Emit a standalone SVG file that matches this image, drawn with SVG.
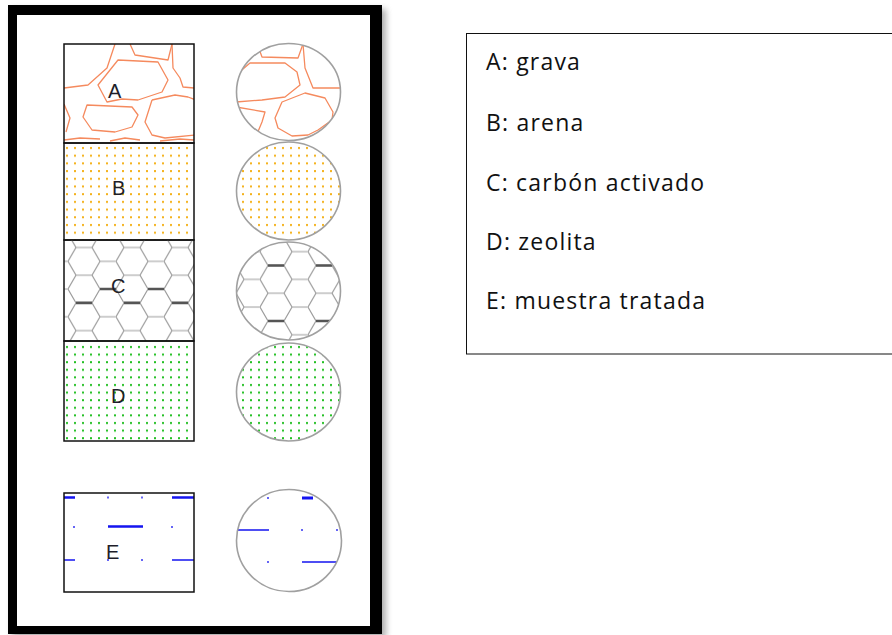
<svg xmlns="http://www.w3.org/2000/svg" width="892" height="635" viewBox="0 0 892 635">
<style>
.box{fill:none;stroke:#111;stroke-width:1.5}
.circ{fill:none;stroke:#a0a0a0;stroke-width:1.6}
.grav{fill:none;stroke:#f58a5e;stroke-width:1.3;stroke-linejoin:round}
.lbl{font-family:"Liberation Sans",Arial,sans-serif;font-size:20px;fill:#1e1e2a}
.leg{font-family:"Open Sans","Noto Sans",sans-serif;font-size:23px;letter-spacing:1.2px;fill:#111}
.blu{stroke:#1515f0;fill:none}
.thk{stroke:#555;stroke-width:2.6}
</style>
<defs>
<pattern id="pB" patternUnits="userSpaceOnUse" x="64" y="145" width="8" height="7.7">
<rect x="2" y="2" width="2" height="2" fill="#f4b11a"/>
</pattern>
<pattern id="pD" patternUnits="userSpaceOnUse" x="64" y="344" width="8" height="7.6">
<rect x="2" y="2" width="2" height="2" fill="#22bf22"/>
</pattern>
<pattern id="pC" patternUnits="userSpaceOnUse" x="68" y="247.5" width="48" height="27.71">
<path d="M0,13.86 L8,0 L24,0 L32,13.86 L24,27.71 L8,27.71 Z M32,13.86 L48,13.86" fill="none" stroke="#9c9c9c" stroke-width="1.2"/>
</pattern>
<pattern id="pC2" patternUnits="userSpaceOnUse" x="68" y="237.8" width="48" height="27.71">
<path d="M0,13.86 L8,0 L24,0 L32,13.86 L24,27.71 L8,27.71 Z M32,13.86 L48,13.86" fill="none" stroke="#9c9c9c" stroke-width="1.2"/>
</pattern>
<clipPath id="cBoxA"><rect x="64" y="44" width="130" height="99"/></clipPath>
<clipPath id="cCirA"><ellipse cx="288.5" cy="92" rx="52" ry="48.5"/></clipPath>
<clipPath id="cBoxC"><rect x="64" y="240" width="130" height="101"/></clipPath>
<clipPath id="cCirC"><ellipse cx="288.5" cy="291" rx="52" ry="49"/></clipPath>
<filter id="sh" x="-10%" y="-10%" width="120%" height="120%"><feGaussianBlur stdDeviation="3"/></filter>
</defs>
<rect width="892" height="635" fill="#fff"/>

<g id="frame">
<rect x="12" y="9" width="374" height="629" fill="#777" filter="url(#sh)" opacity="0.6"/>
<rect x="8" y="5" width="374" height="629" fill="#000"/>
<rect x="17" y="15" width="353" height="611" fill="#fff"/>
</g>

<g id="layerA">
<g clip-path="url(#cBoxA)" class="grav">
<path d="M115,44 L107,68 L88,85 L64,88"/>
<path d="M130,44 L135,55 L168,60 L172,44"/>
<path d="M118,60 L158,62 L168,80 L162,92 L138,100 L122,99 L107,102 L98,85 Z"/>
<path d="M172,44 L173,68 L180,78 L183,87 L194,88"/>
<path d="M87,105 L132,107 L138,115 L132,127 L115,132 L92,130 L83,117 Z"/>
<path d="M152,100 L175,95 L188,97 L196,100 M196,135 L165,138 L152,135 L145,122 L152,100"/>
<path d="M64,104 L70,118 L66,132"/>
<path d="M64,140 L80,138 L100,139 M110,141 L125,138 L140,140 M160,141 L180,139 L194,140"/>
</g>
<rect class="box" x="64" y="44" width="130" height="99"/>
<text class="lbl" x="108" y="98">A</text>
</g>

<g id="circleA">
<g clip-path="url(#cCirA)" class="grav">
<path d="M258,46 L262,57 L298,58 L303,44"/>
<path d="M236,75 L250,63 L285,63 L297,72 L300,85 L285,97 L262,100 L236,102"/>
<path d="M303,44 L305,68 L313,88 L342,88"/>
<path d="M236,107 L265,112 L262,122 L257,134"/>
<path d="M282,102 L305,93 L325,98 L333,112 L332,120 L318,130 L308,135 L292,136 L278,128 L275,118 Z"/>
</g>
<ellipse class="circ" cx="288.5" cy="92" rx="52" ry="48.5"/>
</g>

<g id="layerB">
<rect x="64" y="143" width="130" height="97" fill="url(#pB)"/>
<rect class="box" x="64" y="143" width="130" height="97"/>
<text class="lbl" x="112" y="195">B</text>
</g>
<g id="circleB">
<ellipse cx="288.5" cy="191" rx="52" ry="49" fill="url(#pB)"/>
<ellipse class="circ" cx="288.5" cy="191" rx="52" ry="49"/>
</g>

<g id="layerC">
<rect x="64" y="240" width="130" height="101" fill="url(#pC)"/>
<g clip-path="url(#cBoxC)" class="thk">
<path d="M100,289 L116,289 M148,289 L164,289 M76,302.9 L92,302.9 M124,302.9 L140,302.9 M172,302.9 L188,302.9"/>
</g>
<rect class="box" x="64" y="240" width="130" height="101"/>
<text class="lbl" x="111" y="293">C</text>
</g>
<g id="circleC">
<ellipse cx="288.5" cy="291" rx="52" ry="49" fill="url(#pC2)"/>
<g clip-path="url(#cCirC)" class="thk">
<path d="M268,265.5 L284,265.5 M316,265.5 L332,265.5 M268,321 L284,321 M316,321 L332,321"/>
</g>
<ellipse class="circ" cx="288.5" cy="291" rx="52" ry="49"/>
</g>

<g id="layerD">
<rect x="64" y="341" width="130" height="100" fill="url(#pD)"/>
<rect class="box" x="64" y="341" width="130" height="100"/>
<text class="lbl" x="111" y="403">D</text>
</g>
<g id="circleD">
<ellipse cx="288.5" cy="392" rx="52" ry="49" fill="url(#pD)"/>
<ellipse class="circ" cx="288.5" cy="392" rx="52" ry="49"/>
</g>

<g id="layerE">
<g class="blu">
<path d="M64,497.5 H75 M172,497.5 H194 M108,526.5 H143" stroke-width="2.6"/>
<path d="M64,560 H75 M172,560 H194" stroke-width="1.3"/>
<path d="M108,496.5 v2 M142,496.5 v2 M74,526 v2 M172,526 v2 M108,559 v2 M142,559 v2" stroke-width="1.3"/>
</g>
<rect class="box" x="64" y="493" width="130" height="99"/>
<text class="lbl" x="106" y="559">E</text>
</g>
<g id="circleE">
<g class="blu">
<path d="M302,498 H313" stroke-width="3"/>
<path d="M238,530 H269 M302,562 H337" stroke-width="1.6"/>
<path d="M268,497 v2 M302,529 v2 M337,529 v2 M268,561 v2" stroke-width="1.3"/>
</g>
<ellipse class="circ" cx="289" cy="540.5" rx="52.5" ry="51"/>
</g>

<g id="legend">
<rect x="466.5" y="33.5" width="440" height="320.5" fill="none" stroke="#111" stroke-width="1"/>
<text class="leg" x="486" y="70">A: grava</text>
<text class="leg" x="486" y="131">B: arena</text>
<text class="leg" x="486" y="191">C: carbón activado</text>
<text class="leg" x="486" y="250">D: zeolita</text>
<text class="leg" x="486" y="309">E: muestra tratada</text>
</g>
</svg>
